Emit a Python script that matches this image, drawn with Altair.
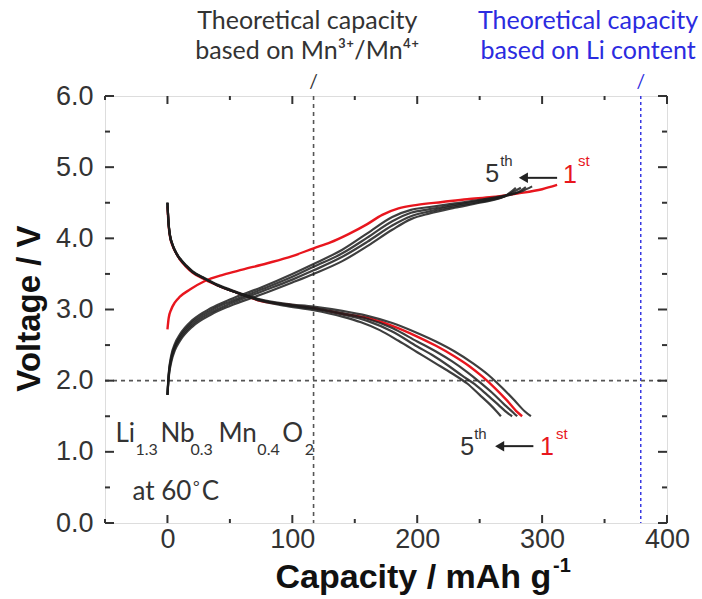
import altair as alt
import pandas as pd

# ---------------- data ----------------
# charge curves
c1_chg_cap = [0, 1, 3, 6, 10, 18, 30, 45, 60, 80, 100, 117, 130, 145, 160, 172, 185, 200, 220, 240, 260, 280, 300, 312]
c1_chg_v = [2.72, 2.88, 3.0, 3.1, 3.18, 3.28, 3.4, 3.49, 3.56, 3.65, 3.75, 3.86, 3.94, 4.06, 4.2, 4.33, 4.42, 4.47, 4.51, 4.55, 4.58, 4.63, 4.69, 4.75]

c2_chg_cap = [0, 1, 3, 6, 10, 20, 35, 50, 75, 100, 117, 140, 160, 180, 195, 210, 230, 250, 270, 285, 292]
c2_chg_v = [1.8, 2.1, 2.35, 2.52, 2.65, 2.85, 3.02, 3.14, 3.31, 3.5, 3.64, 3.84, 4.07, 4.3, 4.4, 4.44, 4.49, 4.54, 4.6, 4.67, 4.73]
c3_chg_cap = [0, 1, 3, 6, 10, 20, 35, 50, 75, 100, 117, 140, 160, 180, 195, 210, 230, 250, 270, 282, 287]
c3_chg_v = [1.8, 2.08, 2.32, 2.49, 2.62, 2.82, 2.99, 3.11, 3.28, 3.46, 3.6, 3.79, 4.01, 4.24, 4.36, 4.41, 4.47, 4.53, 4.59, 4.66, 4.72]
c4_chg_cap = [0, 1, 3, 6, 10, 20, 35, 50, 75, 100, 117, 140, 160, 180, 195, 210, 230, 250, 270, 283]
c4_chg_v = [1.8, 2.06, 2.29, 2.46, 2.59, 2.79, 2.96, 3.08, 3.25, 3.42, 3.55, 3.74, 3.95, 4.18, 4.31, 4.38, 4.45, 4.51, 4.59, 4.71]
c5_chg_cap = [0, 1, 3, 6, 10, 20, 35, 50, 75, 100, 117, 140, 160, 180, 195, 210, 230, 250, 270, 279]
c5_chg_v = [1.8, 2.04, 2.26, 2.43, 2.56, 2.76, 2.93, 3.05, 3.21, 3.38, 3.5, 3.68, 3.89, 4.12, 4.27, 4.35, 4.43, 4.5, 4.59, 4.71]

# discharge curves
c1_dis_cap = [0, 0.5, 1, 2, 4, 7, 10, 15, 20, 30, 40, 55, 75, 95, 117, 140, 160, 180, 200, 215, 230, 242, 252, 262, 272, 280, 284]
c1_dis_v = [4.45, 4.3, 4.17, 4.03, 3.9, 3.79, 3.7, 3.6, 3.52, 3.42, 3.34, 3.24, 3.12, 3.07, 3.02, 2.94, 2.88, 2.77, 2.62, 2.49, 2.34, 2.2, 2.06, 1.9, 1.72, 1.56, 1.5]
c2_dis_cap = [0, 0.5, 1, 2, 4, 7, 10, 15, 20, 30, 40, 55, 75, 95, 117, 140, 160, 180, 200, 215, 230, 245, 257, 268, 278, 286, 291]
c2_dis_v = [4.5, 4.33, 4.2, 4.05, 3.92, 3.8, 3.72, 3.62, 3.54, 3.44, 3.35, 3.25, 3.14, 3.08, 3.04, 2.98, 2.91, 2.81, 2.67, 2.55, 2.41, 2.24, 2.08, 1.9, 1.72, 1.57, 1.5]
c3_dis_cap = [0, 0.5, 1, 2, 4, 7, 10, 15, 20, 30, 40, 55, 75, 95, 117, 140, 160, 180, 200, 215, 228, 240, 250, 260, 270, 277, 280]
c3_dis_v = [4.5, 4.32, 4.19, 4.04, 3.91, 3.79, 3.71, 3.61, 3.53, 3.43, 3.34, 3.24, 3.13, 3.07, 3.02, 2.95, 2.87, 2.74, 2.55, 2.41, 2.27, 2.12, 1.98, 1.83, 1.66, 1.55, 1.5]
c4_dis_cap = [0, 0.5, 1, 2, 4, 7, 10, 15, 20, 30, 40, 55, 75, 95, 117, 140, 160, 180, 200, 212, 225, 236, 246, 256, 265, 272, 276]
c4_dis_v = [4.5, 4.32, 4.19, 4.04, 3.91, 3.79, 3.71, 3.61, 3.53, 3.43, 3.34, 3.24, 3.13, 3.06, 3.01, 2.93, 2.84, 2.69, 2.48, 2.36, 2.21, 2.07, 1.95, 1.8, 1.66, 1.55, 1.5]
c5_dis_cap = [0, 0.5, 1, 2, 4, 7, 10, 15, 20, 30, 40, 55, 75, 95, 117, 140, 155, 170, 185, 200, 215, 228, 240, 250, 258, 264, 267]
c5_dis_v = [4.5, 4.32, 4.19, 4.04, 3.91, 3.79, 3.71, 3.61, 3.53, 3.43, 3.34, 3.24, 3.12, 3.05, 2.99, 2.9, 2.82, 2.71, 2.56, 2.4, 2.24, 2.1, 1.96, 1.8, 1.67, 1.56, 1.5]

x_major = [0, 100, 200, 300, 400]
x_minor = [-50, 50, 150, 250, 350]
y_major = [0, 1, 2, 3, 4, 5, 6]
y_minor = [0.5, 1.5, 2.5, 3.5, 4.5, 5.5]

theo_mn = 117      # mAh/g, Mn3+/Mn4+
theo_li = 379      # mAh/g, Li content
cutoff_v = 2.0

# ---------------- build tables ----------------
curves = [
    ("1", "chg", c1_chg_cap, c1_chg_v), ("2", "chg", c2_chg_cap, c2_chg_v),
    ("3", "chg", c3_chg_cap, c3_chg_v), ("4", "chg", c4_chg_cap, c4_chg_v),
    ("5", "chg", c5_chg_cap, c5_chg_v),
    ("1", "dis", c1_dis_cap, c1_dis_v), ("2", "dis", c2_dis_cap, c2_dis_v),
    ("3", "dis", c3_dis_cap, c3_dis_v), ("4", "dis", c4_dis_cap, c4_dis_v),
    ("5", "dis", c5_dis_cap, c5_dis_v),
]
rows = []
for cyc, kind, caps, vs in curves:
    for i, (c, v) in enumerate(zip(caps, vs)):
        rows.append({"cap": c, "V": v, "cycle": cyc, "series": cyc + kind, "idx": i})
df = pd.DataFrame(rows)
df_red = df[df.cycle == "1"]
df_blk = df[df.cycle != "1"]

W, H = 562, 427
RED = "#e8161e"
DARK = "#333333"
BLUE = "#2b2be0"

xs = alt.Scale(domain=[-50, 400], nice=False, zero=False)
ys = alt.Scale(domain=[0, 6], nice=False, zero=False)

xaxis = alt.Axis(values=x_major, grid=False, ticks=False, domain=False, labelFlush=False,
                 labelFont="Liberation Sans", labelFontSize=27, labelColor=DARK, labelPadding=3,
                 title="Capacity / mAh g", titleFont="Liberation Sans", titleFontSize=34,
                 titleFontWeight="bold", titleColor="#111", titleX=170, titleY=64,
                 titleAlign="left", titleBaseline="alphabetic")
yaxis = alt.Axis(values=y_major, format=".1f", grid=False, ticks=False, domain=False, labelFlush=False,
                 labelFont="Liberation Sans", labelFontSize=27, labelColor=DARK, labelPadding=12,
                 title="Voltage / V", titleFont="Liberation Sans", titleFontSize=33,
                 titleFontWeight="bold", titleColor="#111", titleAngle=270, titleX=-66, titleY=212,
                 titleAlign="center", titleBaseline="alphabetic")

X = lambda f="cap": alt.X(f"{f}:Q", scale=xs, axis=xaxis)
Y = lambda f="V": alt.Y(f"{f}:Q", scale=ys, axis=yaxis)

# dashed reference lines
vl = alt.Chart(pd.DataFrame({"cap": [theo_mn]})).mark_rule(color="#555", strokeWidth=1.6, strokeDash=[4, 4]).encode(
    x=X(), y=alt.value(0), y2=alt.value(H))
vl_blue = alt.Chart(pd.DataFrame({"cap": [theo_li]})).mark_rule(color=BLUE, strokeWidth=1.4, strokeDash=[3, 3]).encode(
    x=X(), y=alt.value(0), y2=alt.value(H))
hl = alt.Chart(pd.DataFrame({"V": [cutoff_v]})).mark_rule(color="#555", strokeWidth=1.6, strokeDash=[4, 4]).encode(
    y=Y(), x=alt.value(0), x2=alt.value(W))

# curves
red = alt.Chart(df_red).mark_line(color=RED, strokeWidth=2.4, interpolate="monotone").encode(
    x=X(), y=Y(), detail="series:N", order="idx:Q")
blk = alt.Chart(df_blk).mark_line(color="#1c1c1c", strokeWidth=2.2, opacity=0.85, interpolate="monotone").encode(
    x=X(), y=Y(), detail="series:N", order="idx:Q")

# inward ticks on all four sides
def xticks(vals, length):
    d = pd.DataFrame({"cap": vals})
    b = alt.Chart(d).mark_rule(color=DARK, strokeWidth=2).encode(x=X(), y=alt.value(H), y2=alt.value(H - length))
    t = alt.Chart(d).mark_rule(color=DARK, strokeWidth=2).encode(x=X(), y=alt.value(0), y2=alt.value(length))
    return [b, t]

def yticks(vals, length):
    d = pd.DataFrame({"V": vals})
    l = alt.Chart(d).mark_rule(color=DARK, strokeWidth=2).encode(y=Y(), x=alt.value(0), x2=alt.value(length))
    r = alt.Chart(d).mark_rule(color=DARK, strokeWidth=2).encode(y=Y(), x=alt.value(W), x2=alt.value(W - length))
    return [l, r]

ticks = xticks(x_major, 8) + xticks(x_minor, 4) + yticks(y_major, 9) + yticks(y_minor, 5)

# arrows
def arrow(x_from, x_to, x_head, v, color):
    shaft = alt.Chart(pd.DataFrame({"cap": [x_from], "cap2": [x_to], "V": [v]})).mark_rule(
        color=color, strokeWidth=2).encode(x=X(), x2="cap2:Q", y=Y())
    head = alt.Chart(pd.DataFrame({"cap": [x_head], "V": [v]})).mark_point(
        shape="triangle-left", filled=True, size=110, color=color, opacity=1).encode(x=X(), y=Y())
    return [shaft, head]

arrows = arrow(312, 288, 285, 4.85, "#222") + arrow(293, 268, 266, 1.08, "#222")

# text pieces
def txt(text, cap, v, size, color, font="Lato", align="left", baseline="alphabetic", weight="normal"):
    return alt.Chart(pd.DataFrame({"cap": [cap], "V": [v], "t": [text]})).mark_text(
        font=font, fontSize=size, color=color, align=align, baseline=baseline, fontWeight=weight).encode(
        x=X(), y=Y(), text="t:N")

AR = "Liberation Sans"
texts = [
    # cycle labels, upper
    txt("5", 254.4, 4.79, 25, DARK, AR), txt("th", 266.4, 5.01, 15, DARK, AR),
    txt("1", 316.8, 4.78, 25, RED, AR), txt("st", 328.8, 5.01, 15, RED, AR),
    # cycle labels, lower
    txt("5", 234.4, 0.955, 25, DARK, AR), txt("th", 245.6, 1.18, 15, DARK, AR),
    txt("1", 298.4, 0.955, 25, RED, AR), txt("st", 311.2, 1.18, 15, RED, AR),
    # formula
    txt("Li", -41.6, 1.14, 26, DARK), txt("1.3", -25.6, 0.955, 16, DARK),
    txt("Nb", -5.6, 1.14, 26, DARK), txt("0.3", 18.4, 0.955, 16, DARK),
    txt("Mn", 40.8, 1.14, 26, DARK), txt("0.4", 72, 0.955, 16, DARK),
    txt("O", 92, 1.14, 26, DARK), txt("2", 110, 0.955, 16, DARK),
    txt("at 60", -28, 0.32, 26, DARK), txt("°", 20.5, 0.43, 16, DARK), txt("C", 27.5, 0.32, 26, DARK),
    # top annotations
    txt("Theoretical capacity", 112, 6.94, 25, DARK, align="center"),
    txt("based on Mn³⁺/Mn⁴⁺", 112, 6.52, 25, DARK, align="center"),
    txt("/", theo_mn, 6.2, 19, DARK, align="center", baseline="middle"),
    txt("Theoretical capacity", 336.8, 6.94, 25, BLUE, align="center"),
    txt("based on Li content", 336.8, 6.52, 25, BLUE, align="center"),
    txt("/", theo_li, 6.2, 19, BLUE, align="center", baseline="middle"),
    # superscript of the x-axis title
    txt("-1", 308.8, -0.69, 20, "#111", AR, weight="bold"),
]

chart = alt.layer(vl, vl_blue, hl, red, blk, *ticks, *arrows, *texts).properties(
    width=W, height=H,
    autosize=alt.AutoSizeParams(type="none"),
    padding={"left": 105, "top": 96, "right": 35, "bottom": 76},
).configure_view(stroke=DARK, strokeWidth=2).configure(background="white")

chart.save("out.html", embed_options={"renderer": "svg", "actions": False})
